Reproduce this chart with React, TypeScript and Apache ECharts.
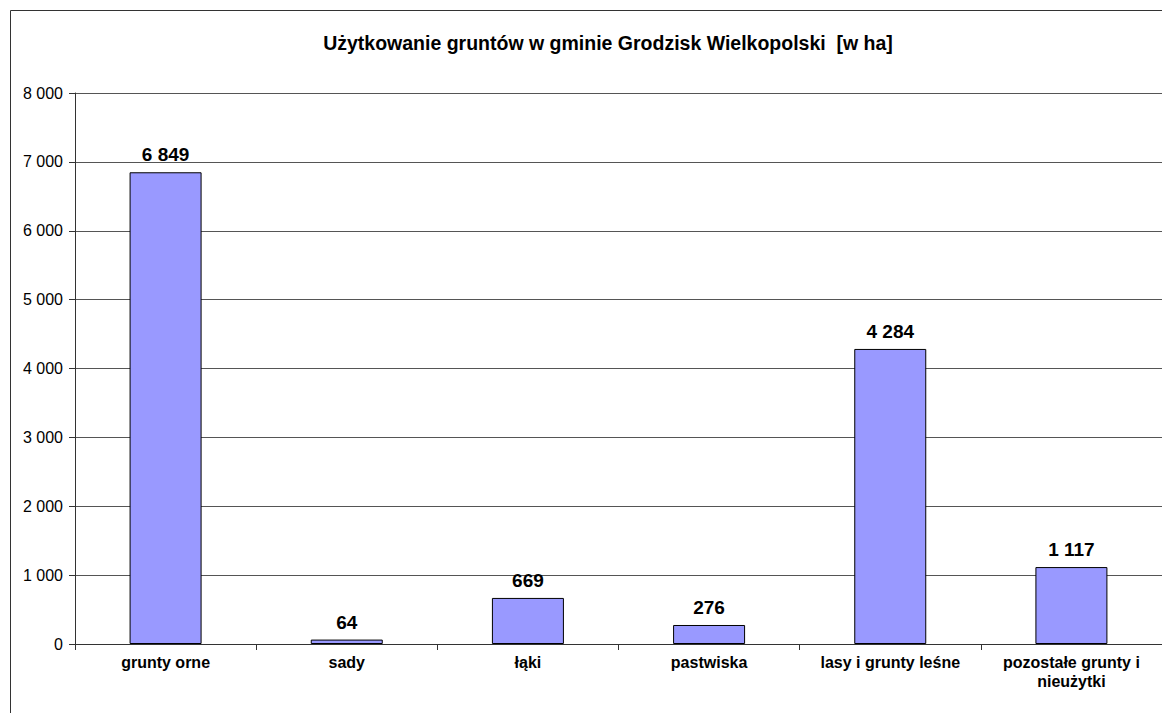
import React, { useEffect, useRef } from "react";
import * as echarts from "echarts";

const categories = [
  "grunty orne",
  "sady",
  "łąki",
  "pastwiska",
  "lasy i grunty leśne",
  "pozostałe grunty i\nnieużytki",
];
const values = [6849, 64, 669, 276, 4284, 1117];
const titleText = "Użytkowanie gruntów w gminie Grodzisk Wielkopolski  [w ha]";

const fmt = (v: number) => String(v).replace(/\B(?=(\d{3})+(?!\d))/g, " ");

export default function App() {
  const ref = useRef<HTMLDivElement>(null);
  useEffect(() => {
    if (!ref.current) return;
    const chart = echarts.init(ref.current, null, { renderer: "svg" });
    const font = "Liberation Sans, Arial, sans-serif";
    chart.setOption({
      animation: false,
      backgroundColor: "#ffffff",
      textStyle: { fontFamily: font },
      graphic: [
        {
          type: "rect",
          shape: { x: 10.5, y: 10.5, width: 1200, height: 800 },
          style: { fill: "none", stroke: "#333333", lineWidth: 1 },
          silent: true,
        },
      ],
      title: {
        text: titleText,
        left: 603,
        top: 28,
        textAlign: "center",
        textStyle: { fontFamily: font, fontSize: 19.5, fontWeight: "bold", color: "#000" },
      },
      grid: { left: 75, top: 93, width: 1088, bottom: 69, containLabel: false },
      xAxis: {
        type: "category",
        data: categories,
        boundaryGap: true,
        axisLine: { lineStyle: { color: "#333", width: 1 } },
        axisTick: { show: true, length: 6, lineStyle: { color: "#333" } },
        axisLabel: {
          interval: 0,
          fontFamily: font,
          fontSize: 16,
          fontWeight: "bold",
          color: "#000",
          margin: 9,
          lineHeight: 19,
        },
      },
      yAxis: {
        type: "value",
        min: 0,
        max: 8000,
        interval: 1000,
        axisLine: { show: true, lineStyle: { color: "#333", width: 1 } },
        axisTick: { show: true, length: 6, lineStyle: { color: "#333" } },
        splitLine: { show: true, lineStyle: { color: "#555", width: 1 } },
        axisLabel: {
          fontFamily: font,
          fontSize: 16,
          color: "#000",
          margin: 12,
          formatter: (v: number) => fmt(v),
        },
      },
      series: [
        {
          type: "bar",
          data: values,
          barWidth: 72,
          itemStyle: { color: "#9999FF", borderColor: "#000", borderWidth: 1 },
          label: {
            show: true,
            position: "top",
            distance: 8,
            fontFamily: font,
            fontSize: 19,
            fontWeight: "bold",
            color: "#000",
            formatter: (p: any) => fmt(p.value),
          },
        },
      ],
    });
    return () => chart.dispose();
  }, []);
  return (
    <div
      ref={ref}
      style={{ position: "fixed", left: 0, top: 0, width: 1162, height: 713 }}
    />
  );
}
